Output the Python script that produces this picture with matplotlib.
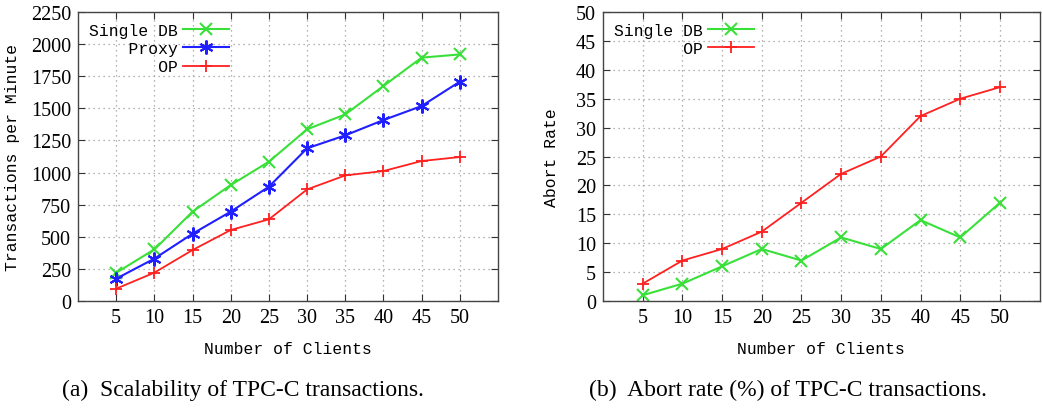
import numpy as np
import matplotlib
matplotlib.use("Agg")
import matplotlib.pyplot as plt

clients = [5, 10, 15, 20, 25, 30, 35, 40, 45, 50]

# (a) transactions per minute
tpm_single = [220, 402, 696, 903, 1085, 1337, 1453, 1674, 1895, 1920]
tpm_proxy = [174, 330, 524, 696, 890, 1189, 1290, 1409, 1518, 1708]
tpm_op = [96, 221, 397, 553, 636, 869, 978, 1012, 1090, 1121]

# (b) abort rate
abort_single = [1, 3, 6, 9, 7, 11, 9, 14, 11, 17]
abort_op = [3, 7, 9, 12, 17, 22, 25, 32, 35, 37]

GREEN = "#3ae03a"
BLUE = "#1f1fff"
RED = "#ff2020"
MONO = "Liberation Mono"
SERIF = "Liberation Serif"

fig = plt.figure(figsize=(10.42, 4.14), dpi=100)
ax1 = fig.add_axes([0.0749, 0.2705, 0.403, 0.698])
ax2 = fig.add_axes([0.5787, 0.2705, 0.419, 0.698])


def style(ax, ymax, ystep, ylabel, ylabelpad):
    ax.set_xlim(0, 55)
    ax.set_ylim(0, ymax)
    ax.set_xticks(clients)
    ax.set_yticks(np.arange(0, ymax + 1, ystep))
    ax.grid(True, color="#9a9a9a", linestyle=(0, (1, 3)), linewidth=0.9)
    ax.tick_params(direction="in", length=5, top=True, right=True,
                   pad=5, color="#333333")
    for lab in ax.get_xticklabels() + ax.get_yticklabels():
        lab.set_fontfamily(SERIF)
        lab.set_fontsize(14.5)
    for sp in ax.spines.values():
        sp.set_color("#444444")
        sp.set_linewidth(1.0)
    ax.set_xlabel("Number of Clients", fontfamily=MONO, fontsize=11.8, labelpad=10)
    ax.set_ylabel(ylabel, fontfamily=MONO, fontsize=11.8, labelpad=ylabelpad)


ax1.plot(clients, tpm_single, color=GREEN, marker="x", ms=8, mew=1.5, lw=1.5,
         label="Single DB")
ax1.plot(clients, tpm_proxy, color=BLUE, marker=(6, 2, 0), ms=10, mew=1.5, lw=1.5,
         label="    Proxy")
ax1.plot(clients, tpm_op, color=RED, marker="+", ms=9, mew=1.3, lw=1.3,
         label="       OP")
style(ax1, 2250, 250, "Transactions per Minute", 8)

ax2.plot(clients, abort_single, color=GREEN, marker="x", ms=8, mew=1.5, lw=1.5,
         label="Single DB")
ax2.plot(clients, abort_op, color=RED, marker="+", ms=9, mew=1.3, lw=1.3,
         label="       OP")
style(ax2, 50, 5, "Abort Rate", 12)

for ax in (ax1, ax2):
    ax.legend(loc="upper left", markerfirst=False, frameon=False,
              prop={"family": MONO, "size": 11.8}, handlelength=2.8,
              labelspacing=0.2, borderaxespad=0.25, handletextpad=0.35)

fig.text(243 / 1042, 24 / 414, "(a)  Scalability of TPC-C transactions.",
         fontfamily=SERIF, fontsize=17, ha="center", va="center")
fig.text(788 / 1042, 24 / 414, "(b)  Abort rate (%) of TPC-C transactions.",
         fontfamily=SERIF, fontsize=17, ha="center", va="center")

fig.savefig("out.png", dpi=100)
